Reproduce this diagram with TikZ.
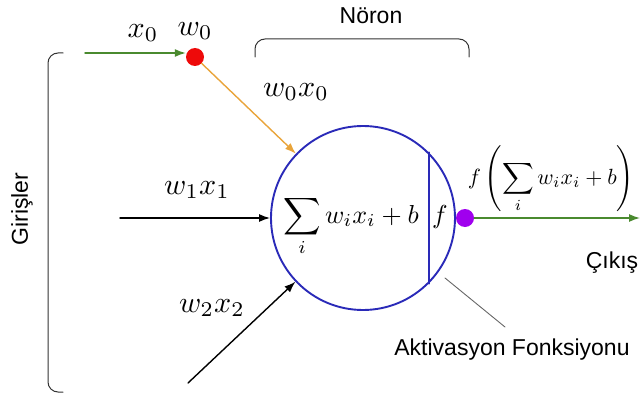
\documentclass[tikz,border=0pt]{standalone}
\usepackage{amsmath}
\usepackage{fontspec}
\setsansfont{Liberation Sans}
\usetikzlibrary{arrows.meta,calc,positioning}
\definecolor{NrnGreen}{HTML}{4A8A2F}
\definecolor{NrnOrange}{HTML}{E9A43A}
\definecolor{NrnRed}{HTML}{EE0A0A}
\definecolor{NrnPurple}{HTML}{A000EE}
\definecolor{NrnBlue}{HTML}{2A2AB8}
\definecolor{NrnGray}{HTML}{333333}
\tikzset{
  >=Latex,
  every picture/.style = {line join=round, line cap=round},
  math big/.style = {font=\normalsize, scale=3.0, inner sep=0pt},
  math mid/.style = {font=\normalsize, scale=2.6, inner sep=0pt},
  math small/.style = {font=\normalsize, scale=2.2, inner sep=0pt},
  word/.style = {font=\sffamily\fontsize{23}{27}\selectfont, inner sep=0pt, text=black},
  neuron/.style = {
    circle,
    draw=NrnBlue,
    line width=1.9pt,
    minimum size=184pt,
    inner sep=0pt
  },
  dot/.style = {circle, minimum size=18pt, inner sep=0pt},
  signal/.style = {-{Latex[length=11pt,width=8pt]}, draw=black, line width=1.4pt},
  signal green/.style = {signal, draw=NrnGreen},
  signal orange/.style = {signal, draw=NrnOrange},
  bracket/.style = {draw=NrnGray, line width=1pt, rounded corners=10pt},
  pointer/.style = {draw=black!60, line width=0.9pt},
}

\begin{document}
\begin{tikzpicture}[x=1pt,y=-1pt]
  \useasboundingbox (0,0) rectangle (640,396);

  % neuron body
  \node[neuron] (nrn) at (363,218) {};
  \draw[draw=NrnBlue, line width=1.9pt] (nrn.45) -- (nrn.-45);
  \node[math mid, anchor=base] (sum) at (351,223) {$\displaystyle\sum_i w_i x_i + b$};
  \node[math mid, anchor=base] (fact) at (440,223) {$f$};

  % inputs
  \coordinate (x0start) at (85,53);
  \coordinate (x1start) at (120,218);
  \coordinate (x2start) at (188,383);
  \node[dot, fill=NrnRed] (w0dot) at (195,57) {};
  \draw[signal green] (x0start) -- (x0start -| w0dot.west);
  \draw[signal orange] (w0dot) -- (nrn);
  \draw[signal] (x1start) -- (nrn);
  \draw[signal] (x2start) -- (nrn);

  \node[math big] (x0lbl) at (143,33) {$x_0$};
  \node[math big] (w0lbl) at (195,31) {$w_0$};
  \node[math big] (w0x0lbl) at (296,92) {$w_0x_0$};
  \node[math big] (w1x1lbl) at (197,190) {$w_1x_1$};
  \node[math big] (w2x2lbl) at (212,308) {$w_2x_2$};

  % output
  \node[dot, fill=NrnPurple] (outdot) at (465,218) {};
  \coordinate (outend) at (640,218);
  \draw[signal green] (outdot) -- (outend);
  \node[math small] (outlbl) at (551,179) {$f\left(\displaystyle\sum_i w_i x_i + b\right)$};
  \node[word, anchor=base] (cikis) at (612,268) {Çıkış};

  % activation note
  \node[word, anchor=base] (act) at (512,355) {Aktivasyon Fonksiyonu};
  \coordinate (actA) at (445,278);
  \coordinate (actB) at (505,327);
  \draw[pointer] (actA) -- (actB);

  % brackets
  \draw[bracket] (63,53) -- (48,53) -- (48,392) -- (63,392);
  \node[word, rotate=90] (girisler) at (22,209) {Girişler};
  \draw[bracket] (255,57) -- (255,39) -- (469,39) -- (469,57);
  \node[word] (noron) at (371,16) {Nöron};
\end{tikzpicture}
\end{document}
